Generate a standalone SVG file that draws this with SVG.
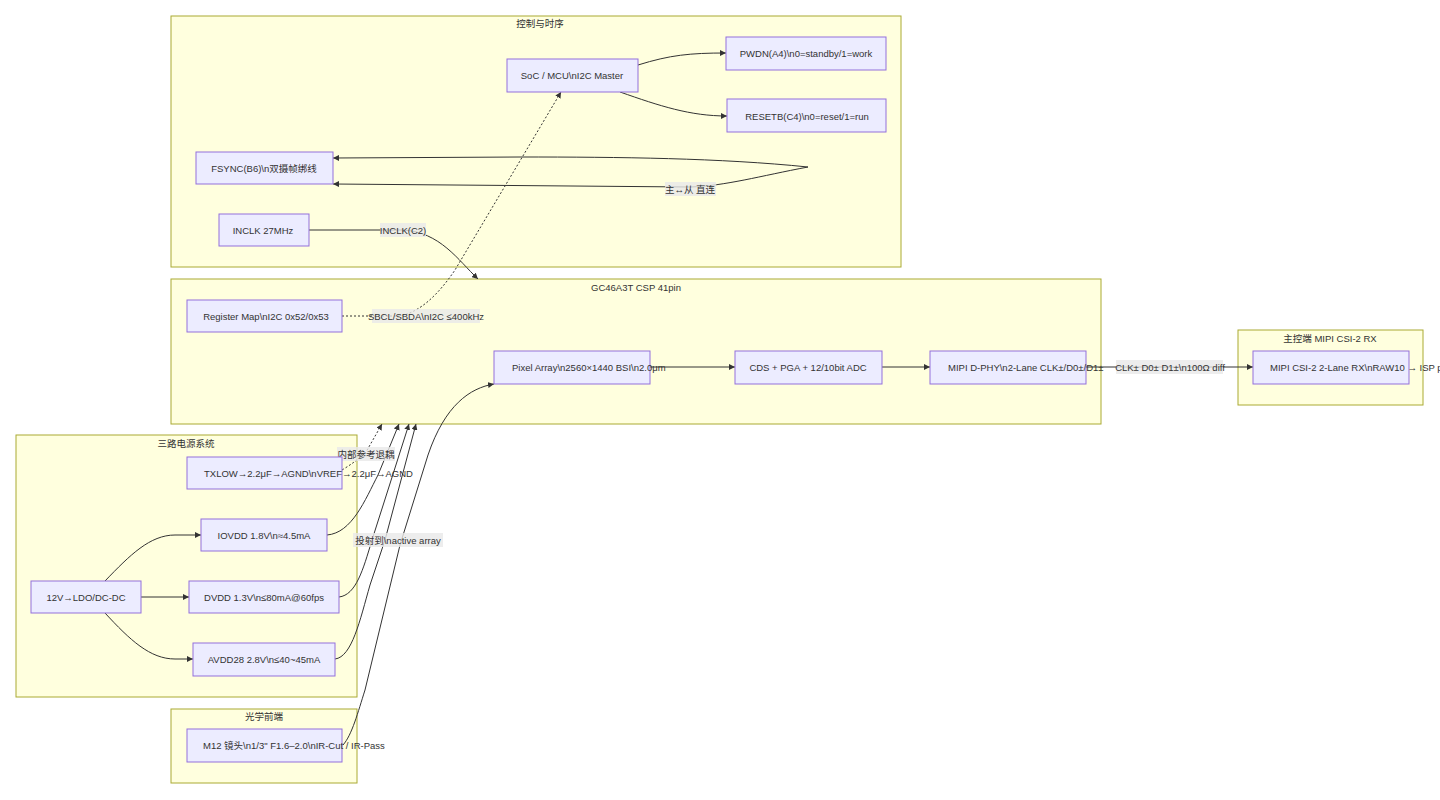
<svg xmlns="http://www.w3.org/2000/svg" width="1440" height="800" viewBox="0 0 1440 800">
<style>
.cl{fill:#ffffde;stroke:#aaaa33;stroke-width:1}
.nd{fill:#ececff;stroke:#9370db;stroke-width:1}
.e{fill:none;stroke:#333;stroke-width:1}
.d{stroke-dasharray:2,2}
.lb{fill:#e8e8e8;opacity:0.8}
text{fill:#333;font-family:"Liberation Sans","Noto Sans CJK SC",sans-serif;font-size:9.5px;dominant-baseline:central}
.m{text-anchor:middle}
.s{text-anchor:start}
</style>
<defs>
<marker id="a" viewBox="0 0 10 10" refX="10" refY="5" markerWidth="6" markerHeight="6" orient="auto" markerUnits="userSpaceOnUse"><path d="M0,0 L10,5 L0,10 z" fill="#333"/></marker>
</defs>
<g id="clusters">
<g id="cluster-ctrl"><rect class="cl" x="171" y="16" width="730" height="251"/><text class="m" x="540" y="23">控制与时序</text></g>
<g id="cluster-gc"><rect class="cl" x="171" y="279" width="930" height="145"/><text class="m" x="636" y="287">GC46A3T CSP 41pin</text></g>
<g id="cluster-rx"><rect class="cl" x="1238" y="330" width="185" height="75"/><text class="m" x="1330" y="338">主控端 MIPI CSI-2 RX</text></g>
<g id="cluster-pwr"><rect class="cl" x="16" y="435" width="341" height="262"/><text class="m" x="186" y="443">三路电源系统</text></g>
<g id="cluster-opt"><rect class="cl" x="171" y="709" width="186" height="74"/><text class="m" x="264" y="716">光学前端</text></g>
</g>
<g id="connectors">
<path class="e" d="M638,65 C670,55 690,53 726,53" marker-end="url(#a)"/>
<path class="e" d="M620,92 C660,106 690,116 727,116" marker-end="url(#a)"/>
<path class="e" d="M808,167 C720,158 620,157 520,157 L333,158" marker-end="url(#a)"/>
<path class="e" d="M808,167 C760,176 725,186 690,187 L333,184" marker-end="url(#a)"/>
<path class="e" d="M309,230 L403,230 C440,232 458,260 478,279" marker-end="url(#a)"/>
<path class="e d" d="M342,316 L400,316 C420,312 438,295 455,270 L561,92" marker-end="url(#a)"/>
<path class="e" d="M650,367 L735,367" marker-end="url(#a)"/>
<path class="e" d="M882,367 L930,367" marker-end="url(#a)"/>
<path class="e" d="M1086,367 L1253,367" marker-end="url(#a)"/>
<path class="e d" d="M342,470 C352,464 360,458 366,452 L382,424" marker-end="url(#a)"/>
<path class="e" d="M327,535 C352,533 365,500 378,475 L399,424" marker-end="url(#a)"/>
<path class="e" d="M339,597 C356,595 363,570 372,540 L409,424" marker-end="url(#a)"/>
<path class="e" d="M335,659 C352,657 360,620 370,585 L385,540 L416,424" marker-end="url(#a)"/>
<path class="e" d="M343,745 C352,735 358,712 365,690 L400,545 L428,455 C445,405 470,388 494,384" marker-end="url(#a)"/>
<path class="e" d="M105,581 C130,555 150,535 175,535 L201,535" marker-end="url(#a)"/>
<path class="e" d="M141,597 L189,597" marker-end="url(#a)"/>
<path class="e" d="M105,613 C130,640 150,659 175,659 L193,659" marker-end="url(#a)"/>
</g>
<g id="edge-labels">
<rect class="lb" x="665" y="182" width="51" height="14"/><text class="m" x="690" y="189">主↔从 直连</text>
<rect class="lb" x="380" y="223" width="46" height="14"/><text class="m" x="403" y="230">INCLK(C2)</text>
<rect class="lb" x="372" y="309" width="108" height="14"/><text class="m" x="426" y="316">SBCL/SBDA\nI2C ≤400kHz</text>
<rect class="lb" x="1116" y="360" width="107" height="14"/><text class="m" x="1170" y="367">CLK± D0± D1±\n100Ω diff</text>
<rect class="lb" x="337" y="447" width="58" height="14"/><text class="m" x="366" y="454">内部参考退耦</text>
<rect class="lb" x="353" y="533" width="90" height="14"/><text class="m" x="398" y="540">投射到\nactive array</text>
</g>
<g id="n-soc"><rect class="nd" x="507" y="59" width="131" height="33"/><text class="m" x="572" y="75">SoC / MCU\nI2C Master</text></g>
<g id="n-pwdn"><rect class="nd" x="726" y="37" width="160" height="33"/><text class="m" x="806" y="53">PWDN(A4)\n0=standby/1=work</text></g>
<g id="n-reset"><rect class="nd" x="727" y="99" width="159" height="33"/><text class="m" x="807" y="116">RESETB(C4)\n0=reset/1=run</text></g>
<g id="n-fsync"><rect class="nd" x="196" y="152" width="137" height="32"/><text class="m" x="264" y="168">FSYNC(B6)\n双摄帧绑线</text></g>
<g id="n-inclk"><rect class="nd" x="219" y="214" width="90" height="32"/><text class="m" x="263" y="230">INCLK 27MHz</text></g>
<g id="n-reg"><rect class="nd" x="187" y="300" width="155" height="32"/><text class="m" x="266" y="316">Register Map\nI2C 0x52/0x53</text></g>
<g id="n-pixel"><rect class="nd" x="494" y="351" width="156" height="33"/><text class="s" x="512" y="367">Pixel Array\n2560×1440 BSI\n2.0μm</text></g>
<g id="n-adc"><rect class="nd" x="735" y="351" width="147" height="33"/><text class="m" x="808" y="367">CDS + PGA + 12/10bit ADC</text></g>
<g id="n-dphy"><rect class="nd" x="930" y="351" width="156" height="33"/><text class="s" x="948" y="367">MIPI D-PHY\n2-Lane CLK±/D0±/D1±</text></g>
<g id="n-rx"><rect class="nd" x="1253" y="351" width="156" height="33"/><text class="s" x="1270" y="367">MIPI CSI-2 2-Lane RX\nRAW10 → ISP p</text></g>
<g id="n-txlow"><rect class="nd" x="187" y="457" width="155" height="32"/><text class="s" x="204" y="473">TXLOW→2.2μF→AGND\nVREF→2.2μF→AGND</text></g>
<g id="n-iovdd"><rect class="nd" x="201" y="519" width="126" height="32"/><text class="m" x="264" y="535">IOVDD 1.8V\n≈4.5mA</text></g>
<g id="n-12v"><rect class="nd" x="31" y="581" width="110" height="32"/><text class="m" x="86" y="597">12V→LDO/DC-DC</text></g>
<g id="n-dvdd"><rect class="nd" x="189" y="581" width="150" height="32"/><text class="m" x="264" y="597">DVDD 1.3V\n≤80mA@60fps</text></g>
<g id="n-avdd"><rect class="nd" x="193" y="643" width="142" height="33"/><text class="m" x="264" y="659">AVDD28 2.8V\n≤40~45mA</text></g>
<g id="n-m12"><rect class="nd" x="187" y="729" width="155" height="33"/><text class="s" x="203" y="745">M12 镜头\n1/3" F1.6–2.0\nIR-Cut / IR-Pass</text></g>
</svg>
